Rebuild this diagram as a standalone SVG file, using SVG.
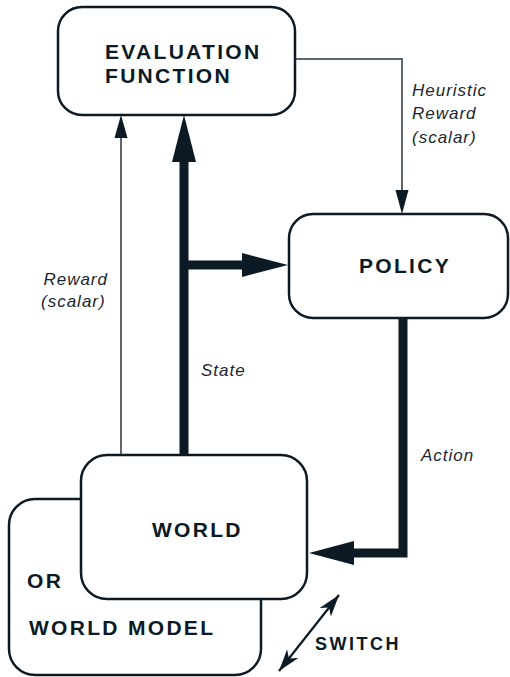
<svg xmlns="http://www.w3.org/2000/svg" width="510" height="677" viewBox="0 0 510 677">
<style>
.box{fill:#ffffff;stroke:#0b1a24;stroke-width:2.5}
.lbl{font-family:"Liberation Sans",Arial,sans-serif;font-weight:bold;font-size:21px;letter-spacing:2.3px;fill:#0b1a24}
.it{font-family:"Liberation Sans",Arial,sans-serif;font-style:italic;font-size:17px;letter-spacing:1px;fill:#1a2630}
.thin{stroke:#2a3640;stroke-width:1.5;fill:none}
.thick{stroke:#0b1a24;stroke-width:9;fill:none}
.head{fill:#0b1a24}
</style>
<defs>
<marker id="sw" viewBox="0 0 22 14" refX="22" refY="7" markerWidth="22" markerHeight="14" markerUnits="userSpaceOnUse" orient="auto-start-reverse">
<path d="M0,0 L22,7 L0,14 L6,7 Z" fill="#0b1a24"/>
</marker>
</defs>
<g id="world-model">
<rect class="box" x="9" y="499" width="252" height="176" rx="26"/>
<text class="lbl" x="27" y="588">OR</text>
<text class="lbl" x="29" y="635">WORLD MODEL</text>
</g>
<g id="world">
<rect class="box" x="81" y="455" width="226" height="144" rx="26"/>
<text class="lbl" x="152" y="537">WORLD</text>
</g>
<g id="evaluation">
<rect class="box" x="58" y="7" width="237" height="108" rx="24"/>
<text class="lbl" x="105" y="59">EVALUATION</text>
<text class="lbl" x="105" y="83">FUNCTION</text>
</g>
<g id="policy">
<rect class="box" x="289" y="214" width="219" height="104" rx="24"/>
<text class="lbl" x="359" y="273">POLICY</text>
</g>
<g id="connectors">
<path class="thin" d="M121,455 V136"/>
<polygon class="head" points="121,115 114.5,138 127.5,138"/>
<path class="thin" d="M295,59 H402 V192"/>
<polygon class="head" points="402,214 395.5,190 408.5,190"/>
<path class="thick" d="M184,455 V160"/>
<polygon class="head" points="184,115 172,162 196,162"/>
<path class="thick" d="M184,265 H245"/>
<polygon class="head" points="288,265 242,253 242,277"/>
<path class="thick" d="M403,318 V553 H350"/>
<polygon class="head" points="309,553 354,541 354,565"/>
<path d="M279,671 L339,595" stroke="#0b1a24" stroke-width="2.2" fill="none" marker-start="url(#sw)" marker-end="url(#sw)"/>
<text class="it" x="412" y="96">Heuristic</text>
<text class="it" x="412" y="119">Reward</text>
<text class="it" x="412" y="143">(scalar)</text>
<text class="it" x="108" y="285" text-anchor="end">Reward</text>
<text class="it" x="41" y="307">(scalar)</text>
<text class="it" x="201" y="376">State</text>
<text class="it" x="421" y="461">Action</text>
<text class="lbl" x="315" y="650" style="font-size:18px;letter-spacing:2.5px">SWITCH</text>
</g>
</svg>
